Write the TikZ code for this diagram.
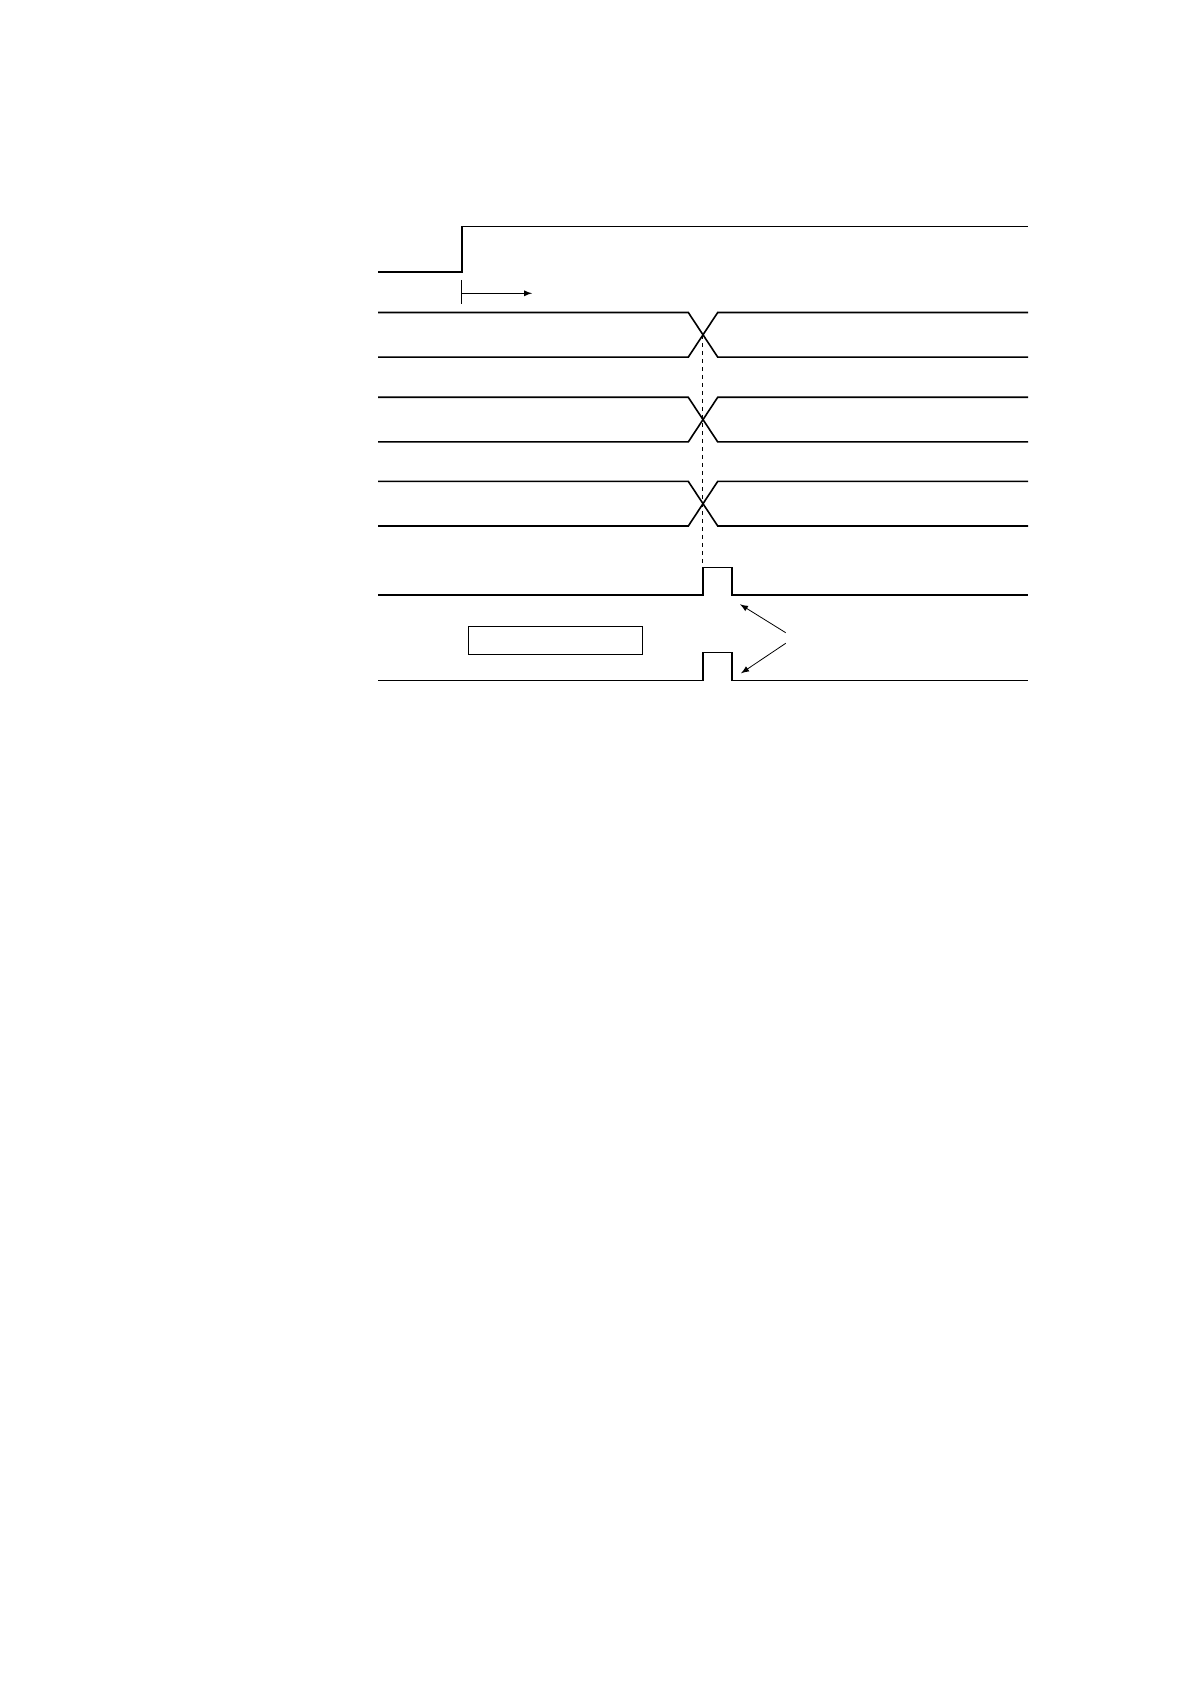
\documentclass[tikz,border=0pt]{standalone}
\usetikzlibrary{arrows,positioning}

\begin{document}
\begin{tikzpicture}[
    x=0.5pt, y=-0.5pt,
    wave/.style={line width=0.8pt},
    marker/.style={line width=0.6pt, dash pattern=on 2pt off 2pt},
    pointer/.style={-latex, line width=0.4pt},
    frame/.style={rectangle, draw, line width=0.6pt, minimum width=87pt, minimum height=14pt, inner sep=0pt}
]

% Page
\useasboundingbox (0,0) rectangle (1190,1684);

% Enable signal
\draw[wave] (378,272) -- (461.7,272) -- (461.7,226.5) -- (1028,226.5);

% Delay marker
\coordinate (tick-top) at (461.7,280);
\coordinate (tick-bot) at (461.7,304.5);
\coordinate (delay-start) at (461.7,293.3);
\coordinate (delay-end) at (532,293.3);
\draw[line width=0.5pt] (tick-top) -- (tick-bot);
\draw[pointer] (delay-start) -- (delay-end);

% Data buses
\foreach \t in {312.5,397.3,481.4} {
    \draw[wave] (378,\t) -- (688.3,\t) -- (717.7,\t+44.6) -- (1028,\t+44.6);
    \draw[wave] (378,\t+44.6) -- (688.3,\t+44.6) -- (717.7,\t) -- (1028,\t);
}

% Strobe pulses
\draw[wave] (378,595) -- (703,595) -- (703,567.3) -- (732,567.3) -- (732,595) -- (1028,595);
\draw[wave] (378,680.3) -- (703,680.3) -- (703,652.3) -- (732,652.3) -- (732,680.3) -- (1028,680.3);

% Sampling point
\coordinate (cross) at (702.8,334.8);
\coordinate (pulse-top) at (702.8,567.3);
\draw[marker] (cross) -- (pulse-top);

% Empty frame
\node[frame] (box) at (555.5,640.3) {};

% Pointers to pulses
\coordinate (fork-up) at (785.7,632.7);
\coordinate (fork-down) at (785.7,643.3);
\coordinate (pulse-a) at (740,604.3);
\coordinate (pulse-b) at (741,673.3);
\draw[pointer] (fork-up) -- (pulse-a);
\draw[pointer] (fork-down) -- (pulse-b);

\end{tikzpicture}
\end{document}
